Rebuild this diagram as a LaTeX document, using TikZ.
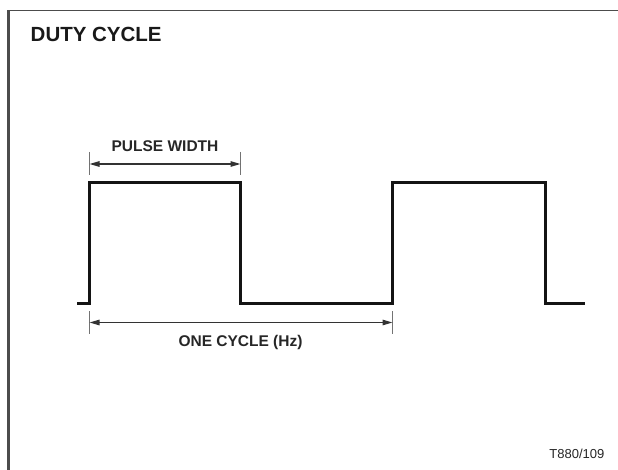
\documentclass[tikz,border=0pt]{standalone}
\usepackage{fontspec}
\setmainfont{Liberation Sans}
\usetikzlibrary{arrows.meta}
\begin{document}
\begin{tikzpicture}[x=1pt,y=-1pt,
  wave/.style={line width=3pt,line join=miter,black!92},
  dimline/.style={line width=1.3pt,black!80,{Triangle[length=10pt,width=5.5pt]}-{Triangle[length=10pt,width=5.5pt]}},
  tickline/.style={line width=1.2pt,black!55},
  lbl/.style={font=\bfseries\fontsize{15.5}{17}\selectfont,text=black!85,inner sep=0pt},
  frameline/.style={black!70}]
\useasboundingbox (0,0) rectangle (618,470);
% frame
\draw[frameline,line width=2.2pt] (8.5,470) -- (8.5,10.5);
\draw[frameline,line width=1.8pt] (7.4,10.5) -- (618,10.5);
% title
\node[font=\bfseries\fontsize{20.5}{24}\selectfont,text=black!90,anchor=west,inner sep=0pt] (title) at (30.5,34) {DUTY CYCLE};
% waveform
\coordinate (w0) at (77,303);
\coordinate (r1b) at (89.5,303);
\coordinate (r1t) at (89.5,183);
\coordinate (f1t) at (240.5,183);
\coordinate (f1b) at (240.5,303);
\coordinate (r2b) at (392.5,303);
\coordinate (r2t) at (392.5,183);
\coordinate (f2t) at (545,183);
\coordinate (f2b) at (545,303);
\coordinate (w1) at (585,303);
\draw[wave] (w0) -- (r1b) -- (r1t) -- (f1t) -- (f1b) -- (r2b) -- (r2t) -- (f2t) -- (f2b) -- (w1);
% pulse width dimension
\coordinate (pw1a) at (89.5,152);
\coordinate (pw1b) at (89.5,175);
\coordinate (pw2a) at (240.5,152);
\coordinate (pw2b) at (240.5,175);
\coordinate (pwl) at (89.5,164);
\coordinate (pwr) at (240.5,164);
\draw[tickline] (pw1a) -- (pw1b);
\draw[tickline] (pw2a) -- (pw2b);
\draw[dimline] (pwl) -- (pwr);
\node[lbl] (pwlabel) at (165,146) {PULSE WIDTH};
% one cycle dimension
\coordinate (oc1a) at (89.5,311);
\coordinate (oc1b) at (89.5,334);
\coordinate (oc2a) at (392.5,311);
\coordinate (oc2b) at (392.5,334);
\coordinate (ocl) at (89.5,322.5);
\coordinate (ocr) at (392.5,322.5);
\draw[tickline] (oc1a) -- (oc1b);
\draw[tickline] (oc2a) -- (oc2b);
\draw[dimline] (ocl) -- (ocr);
\node[lbl] (oclabel) at (240.5,342) {ONE CYCLE (Hz)};
% reference code
\node[font=\fontsize{13}{15}\selectfont,text=black!85,anchor=east,inner sep=0pt] (code) at (604.5,454) {T880/109};
\end{tikzpicture}
\end{document}
